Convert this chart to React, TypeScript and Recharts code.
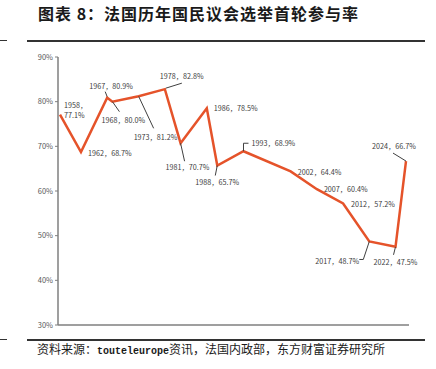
import React from "react";
import { LineChart, Line, XAxis, YAxis } from "recharts";

const years = [1958, 1962, 1967, 1968, 1973, 1978, 1981, 1986, 1988, 1993, 2002, 2007, 2012, 2017, 2022, 2024];
const turnout = [77.1, 68.7, 80.9, 80.0, 81.2, 82.8, 70.7, 78.5, 65.7, 68.9, 64.4, 60.4, 57.2, 48.7, 47.5, 66.7];
const yTicks = [30, 40, 50, 60, 70, 80, 90];

// label placement relative to each point: text start (dx, dy) and leader polyline
const labelLayout: { dx: number; dy: number; lead?: number[][] }[] = [
  { dx: 4, dy: -10 },
  { dx: 7, dy: 1 },
  { dx: -18, dy: -12, lead: [[0, -1], [-2, -6]] },
  { dx: -11, dy: 18, lead: [[0, 0], [7, 10]] },
  { dx: -5, dy: 41, lead: [[0, 0], [15, 32]] },
  { dx: -5, dy: -13, lead: [[1, -1], [17, -6]] },
  { dx: -15, dy: 24, lead: [[0, 0], [4, 18]] },
  { dx: 7, dy: 0 },
  { dx: -22, dy: 16, lead: [[0, 0], [-2, 10]] },
  { dx: 8, dy: -8, lead: [[0, 0], [0, -8], [5, -8]] },
  { dx: 7, dy: 1 },
  { dx: 7, dy: 0 },
  { dx: 8, dy: 0 },
  { dx: -54, dy: 20, lead: [[0, 0], [-6, 18], [-10, 18]] },
  { dx: -22, dy: 15, lead: [[0, 0], [-2, 8]] },
  { dx: -34, dy: -15, lead: [[0, 0], [-13, -8]] },
];

const data = years.map((y, i) => ({ year: y, v: turnout[i] }));

const COLOR = "#E5532A";
const labelFont = "'Noto Sans CJK SC', sans-serif";

const PointLabel = (props: any) => {
  const { cx, cy, index, payload } = props;
  const lay = labelLayout[index];
  const tx = cx + lay.dx;
  const ty = cy + lay.dy;
  const val = payload.v.toFixed(1) + "%";
  const textProps = {
    fontSize: 7.2,
    fill: "#404040",
    fontFamily: labelFont,
    dominantBaseline: "central" as const,
  };
  return (
    <g key={"lbl" + index}>
      {lay.lead && (
        <polyline
          points={lay.lead.map((p) => `${cx + p[0]},${cy + p[1]}`).join(" ")}
          fill="none"
          stroke="#404040"
          strokeWidth={1}
        />
      )}
      {index === 0 ? (
        <text x={tx} y={ty} {...textProps}>
          <tspan x={tx} dy={0}>{payload.year}，</tspan>
          <tspan x={tx} dy={10}>{val}</tspan>
        </text>
      ) : (
        <text x={tx} y={ty} {...textProps}>
          {payload.year}，{val}
        </text>
      )}
    </g>
  );
};

export default function App() {
  return (
    <div style={{ position: "absolute", left: 0, top: 0, width: 436, height: 369, background: "#fff", fontFamily: labelFont }}>
      <div
        style={{
          position: "absolute",
          left: 38,
          top: 3,
          fontSize: 16,
          fontWeight: 700,
          letterSpacing: 1,
          color: "#1a1a1a",
          whiteSpace: "nowrap",
          lineHeight: "20px",
        }}
      >
        图表 8：法国历年国民议会选举首轮参与率
      </div>
      <div style={{ position: "absolute", left: 0, top: 40, width: 7, height: 1, background: "#333" }} />
      <div style={{ position: "absolute", left: 27, top: 40, width: 398, height: 1.5, background: "#333" }} />

      <div style={{ position: "absolute", left: 0, top: 0 }}>
        <LineChart width={436} height={369} data={data} margin={{ top: 57, right: 27, bottom: 14, left: 28 }}>
          <XAxis
            dataKey="year"
            type="number"
            domain={[1958, 2024]}
            padding={{ left: 2, right: 3 }}
            tick={false}
            tickLine={false}
            height={30}
            axisLine={{ stroke: "#7f7f7f", strokeWidth: 1.5 }}
          />
          <YAxis
            type="number"
            domain={[30, 90]}
            ticks={yTicks}
            width={30}
            tickSize={3}
            tickFormatter={(t: number) => `${t}%`}
            tick={{ fontSize: 7.5, fill: "#595959", fontFamily: labelFont }}
            tickLine={{ stroke: "#7f7f7f" }}
            axisLine={{ stroke: "#7f7f7f", strokeWidth: 1.5 }}
          />
          <Line
            type="linear"
            dataKey="v"
            stroke={COLOR}
            strokeWidth={2.5}
            dot={PointLabel}
            activeDot={false}
            isAnimationActive={false}
          />
        </LineChart>
      </div>

      <div style={{ position: "absolute", left: 0, top: 339, width: 7, height: 1, background: "#333" }} />
      <div style={{ position: "absolute", left: 27, top: 339, width: 398, height: 1.5, background: "#333" }} />
      <div
        style={{
          position: "absolute",
          left: 37,
          top: 341,
          fontSize: 12,
          color: "#1a1a1a",
          whiteSpace: "nowrap",
          lineHeight: "16px",
        }}
      >
        资料来源：<span style={{ fontFamily: "'Liberation Mono', monospace", fontSize: 10, fontWeight: 700 }}>touteleurope</span>资讯，法国内政部，东方财富证券研究所
      </div>
    </div>
  );
}
